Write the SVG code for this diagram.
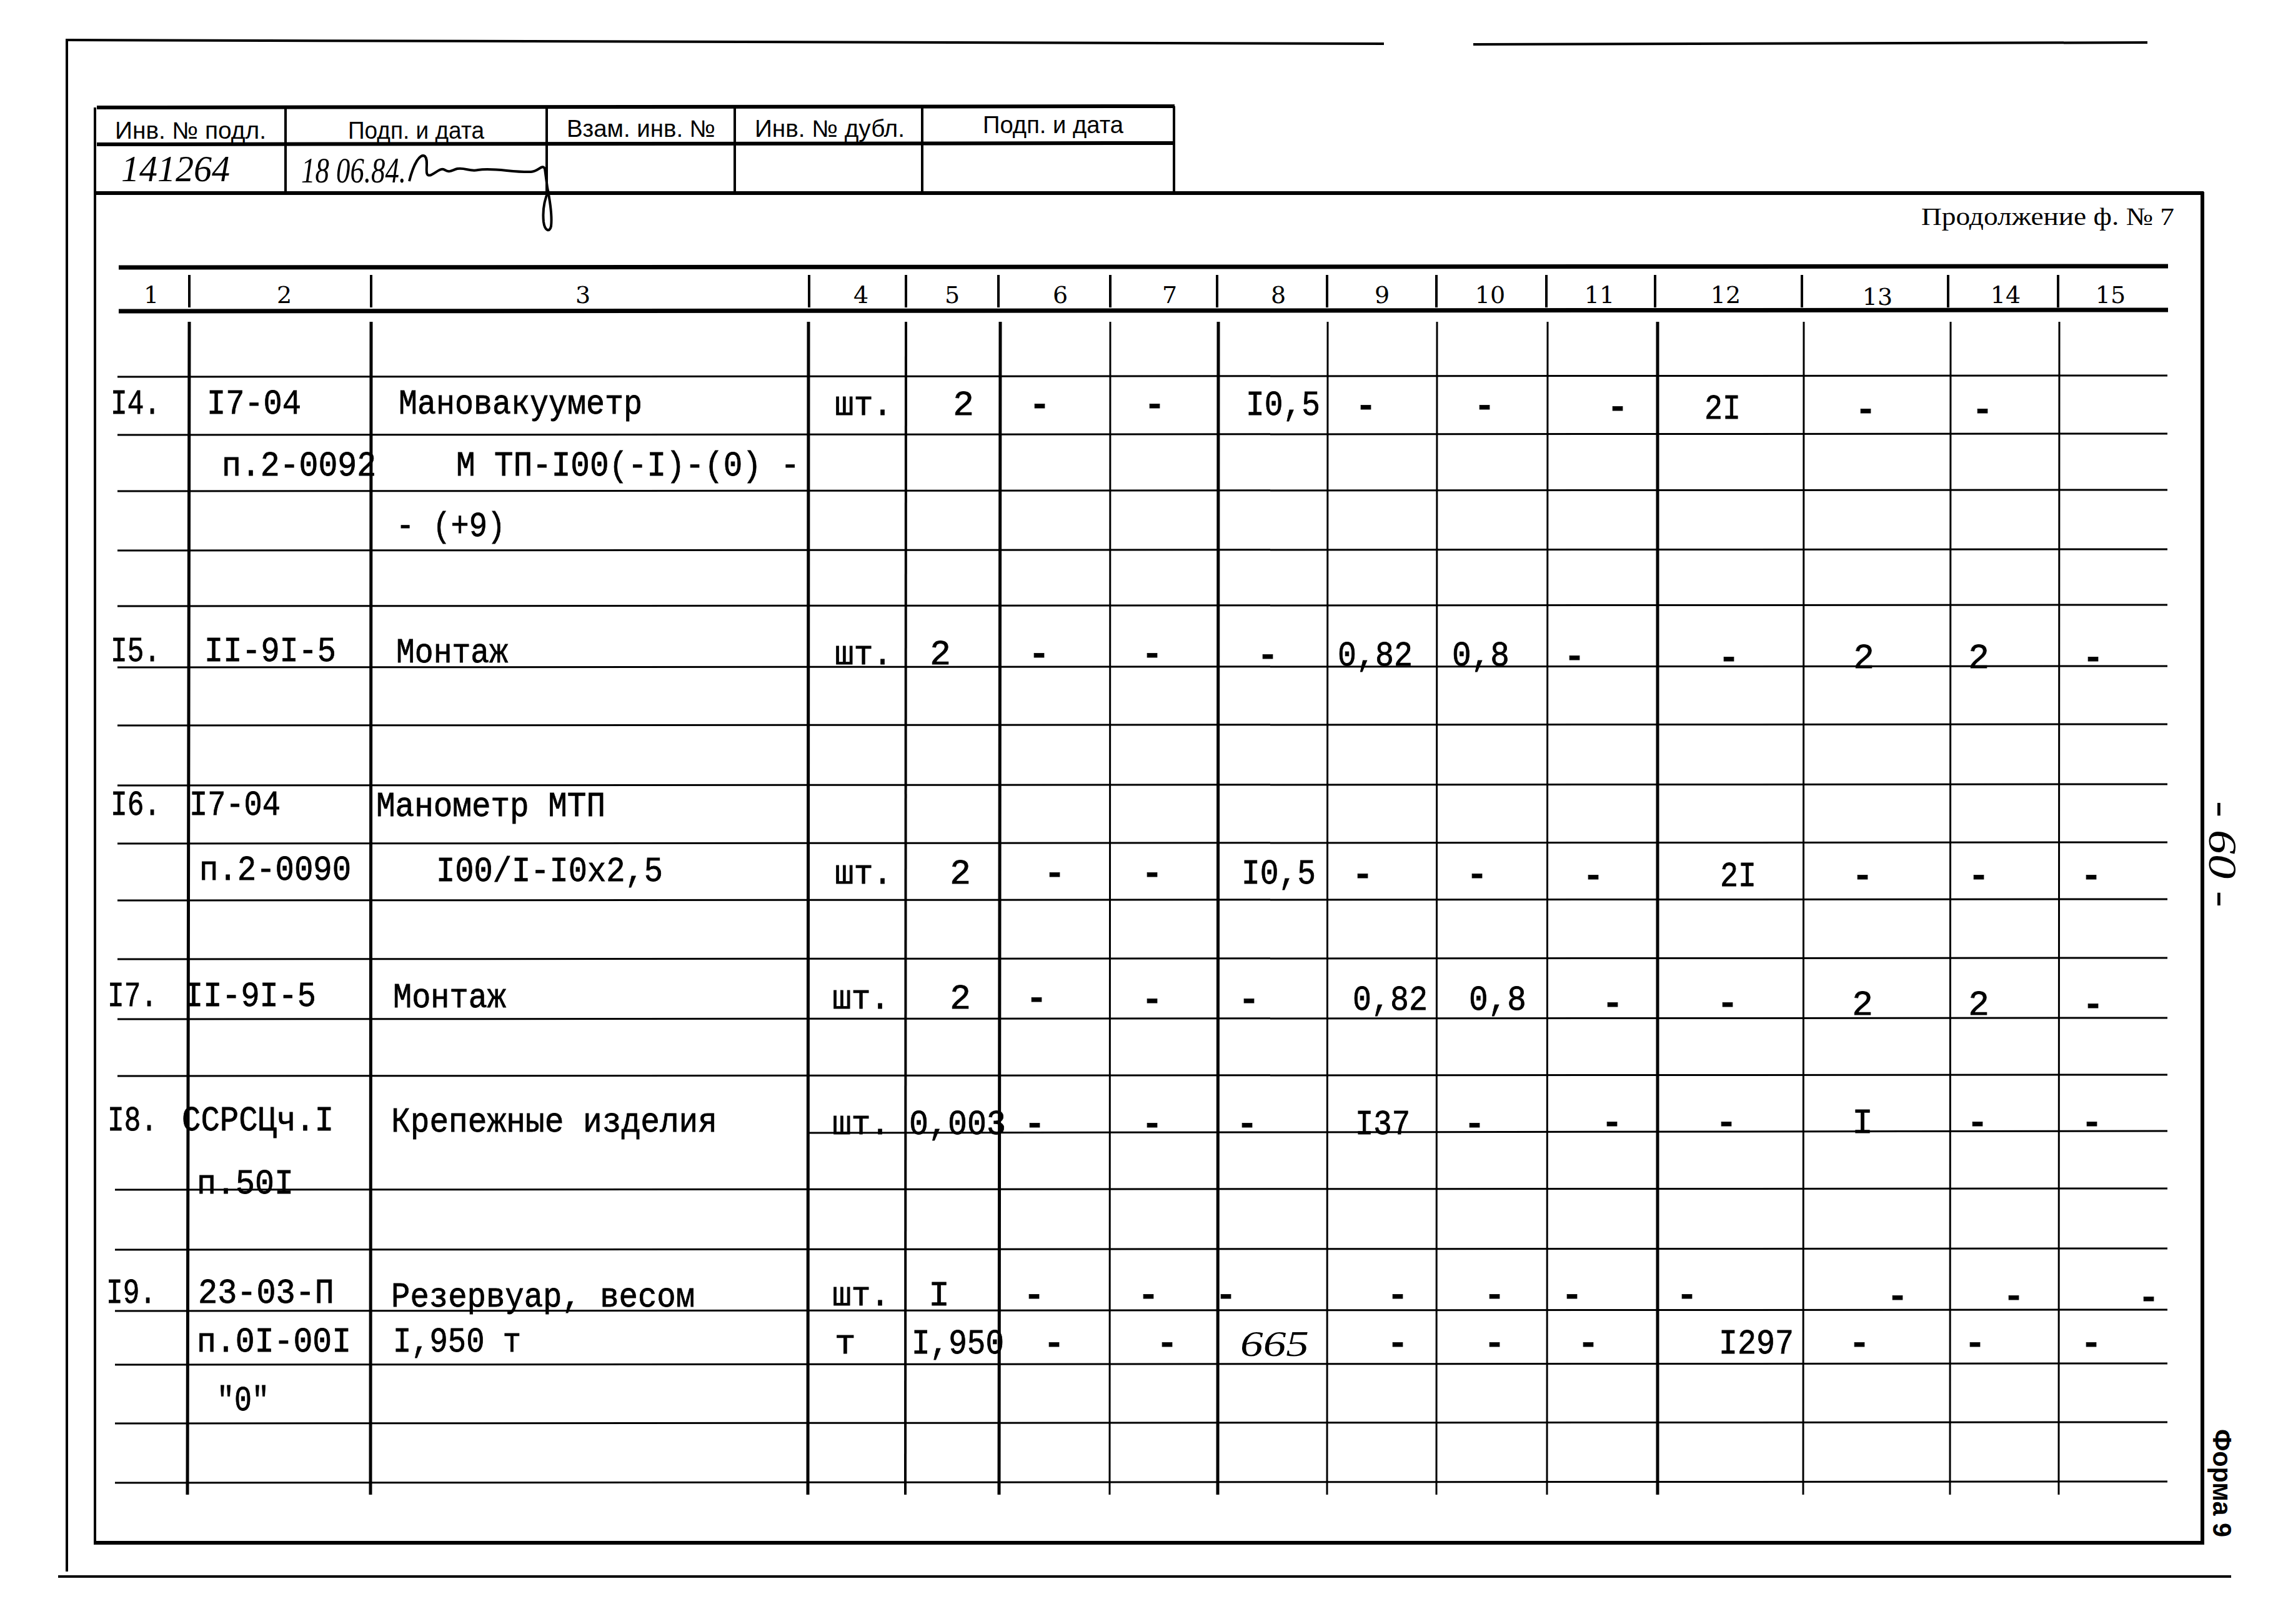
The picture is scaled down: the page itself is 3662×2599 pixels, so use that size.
<svg xmlns="http://www.w3.org/2000/svg" width="3662" height="2599" viewBox="0 0 3662 2599">
<style>
.ln{stroke:#000;fill:none;stroke-linecap:butt}
.t1{stroke-width:3}
.t2{stroke-width:4}
.t3{stroke-width:6}
.tw{font-family:"Liberation Mono","DejaVu Sans Mono",monospace;font-size:56px;fill:#000;stroke:#000;stroke-width:0.8}
.m{text-anchor:middle}
.d{font-weight:bold}
.hd{font-family:"DejaVu Serif","Liberation Serif",serif;font-size:38px;fill:#000;text-anchor:middle}
.st{font-family:"Liberation Sans","DejaVu Sans",sans-serif;font-size:38px;fill:#000}
.hw{font-family:"Liberation Serif","DejaVu Serif",serif;font-style:italic;fill:#000}
.cap{font-family:"Liberation Serif","DejaVu Serif",serif;font-size:40px;fill:#000}
</style>
<rect width="3662" height="2599" fill="#fff"/>

<g id="frame">
<path class="ln t2" d="M107 64 L2215 70 M2358 71 L3437 68"/>
<path class="ln t2" d="M107 62 L107 2515"/>
<path class="ln t2" d="M93 2523 L3571 2523"/>
<path class="ln t2" d="M152 172 L152 2470"/>
<path class="ln t3" d="M152 309 L3527 309"/>
<path class="ln t3" d="M3525 307 L3525 2472"/>
<path class="ln t3" d="M150 2469 L3528 2469"/>
</g>

<g id="stamp">
<path class="ln t3" d="M155 172 L1880 170"/>
<path class="ln t3" d="M155 231 L1880 229"/>
<path class="ln t2" d="M457 172 L457 309 M875 172 L875 309 M1176 172 L1176 309 M1476 172 L1476 309 M1879 170 L1879 309"/>
<text class="st" x="184" y="222" textLength="242" lengthAdjust="spacingAndGlyphs">Инв. № подл.</text>
<text class="st" x="557" y="222" textLength="218" lengthAdjust="spacingAndGlyphs">Подп. и дата</text>
<text class="st" x="907" y="219" textLength="238" lengthAdjust="spacingAndGlyphs">Взам. инв. №</text>
<text class="st" x="1208" y="219" textLength="240" lengthAdjust="spacingAndGlyphs">Инв. № дубл.</text>
<text class="st" x="1573" y="213" textLength="225" lengthAdjust="spacingAndGlyphs">Подп. и дата</text>
<text class="hw" x="194" y="290" font-size="60" textLength="174" lengthAdjust="spacingAndGlyphs">141264</text>
<text class="hw" x="482" y="292" font-size="56" textLength="168" lengthAdjust="spacingAndGlyphs">18 06.84.</text>
<path class="ln" stroke-width="4" d="M655 290 C662 262 672 245 680 250 C688 258 676 285 690 280 C700 275 705 268 712 272 C720 277 724 272 732 270 C745 268 752 275 765 272 C790 268 820 276 850 275 C862 274 868 262 872 270 L876 300 C880 320 884 345 882 362 C880 372 872 370 870 355 C868 335 872 318 878 305"/>
</g>

<text class="cap" x="3075" y="360" textLength="405" lengthAdjust="spacingAndGlyphs">Продолжение ф. № 7</text>

<g id="header">
<path class="ln" stroke-width="7" d="M190 428 L3470 426 M190 498 L3470 496"/>
<path class="ln t2" d="M303 440 L303 492 M594 440 L594 492 M1295 440 L1295 492 M1450 440 L1450 492 M1598 440 L1598 492 M1777 440 L1777 492 M1948 440 L1948 492 M2124 440 L2124 492 M2299 440 L2299 492 M2475 440 L2475 492 M2649 440 L2649 492 M2884 440 L2884 492 M3118 440 L3118 492 M3294 440 L3294 492"/>
<text class="hd" x="242" y="485">1</text>
<text class="hd" x="455" y="485">2</text>
<text class="hd" x="933" y="485">3</text>
<text class="hd" x="1378" y="485">4</text>
<text class="hd" x="1524" y="485">5</text>
<text class="hd" x="1697" y="485">6</text>
<text class="hd" x="1872" y="485">7</text>
<text class="hd" x="2046" y="485">8</text>
<text class="hd" x="2212" y="485">9</text>
<text class="hd" x="2385" y="485">10</text>
<text class="hd" x="2560" y="485">11</text>
<text class="hd" x="2762" y="485">12</text>
<text class="hd" x="3005" y="488">13</text>
<text class="hd" x="3210" y="485">14</text>
<text class="hd" x="3378" y="485">15</text>
</g>

<g id="grid">
<path class="ln t1" d="M188 603 L3469 601 M188 696 L3469 694 M188 786 L3469 784 M188 881 L3469 879 M188 970 L3469 968 M188 1068 L3469 1066 M188 1161 L3469 1159 M188 1257 L3469 1255 M188 1350 L3469 1348 M188 1441 L3469 1439 M188 1535 L3469 1533 M188 1631 L3469 1629 M188 1722 L3469 1720 M1294 1813 L3469 1810 M184 1904 L3469 1902 M184 2000 L3469 1998 M184 2098 L3469 2096 M184 2184 L3469 2182 M184 2278 L3469 2276 M184 2373 L3469 2371"/>
<path class="ln" stroke-width="5" d="M303 515 L300 2392 M594 515 L593 2392 M1294 515 L1293 2392 M1601 515 L1599 2392 M1950 515 L1949 2392 M2653 515 L2653 2392"/>
<path class="ln t2" d="M1450 515 L1449 2392"/>
<path class="ln t1" d="M1777 515 L1776 2392 M2125 515 L2124 2392 M2300 515 L2299 2392 M2477 515 L2476 2392 M2887 515 L2886 2392 M3122 515 L3121 2392 M3296 515 L3295 2392"/>
</g>

<g id="row14">
<text class="tw" x="177" y="662" textLength="80" lengthAdjust="spacingAndGlyphs">I4.</text>
<text class="tw" x="331" y="662" textLength="151" lengthAdjust="spacingAndGlyphs">I7-04</text>
<text class="tw" x="638" y="662" textLength="390" lengthAdjust="spacingAndGlyphs">Мановакууметр</text>
<text class="tw" x="1336" y="664" textLength="92" lengthAdjust="spacingAndGlyphs">шт.</text>
<text class="tw m" x="1542" y="664">2</text>
<text class="tw m d" x="1664" y="664">-</text>
<text class="tw m d" x="1848" y="664">-</text>
<text class="tw" x="1994" y="664" textLength="119" lengthAdjust="spacingAndGlyphs">I0,5</text>
<text class="tw m d" x="2186" y="666">-</text>
<text class="tw m d" x="2376" y="666">-</text>
<text class="tw m d" x="2589" y="668">-</text>
<text class="tw" x="2728" y="670" textLength="58" lengthAdjust="spacingAndGlyphs">2I</text>
<text class="tw m d" x="2986" y="672">-</text>
<text class="tw m d" x="3173" y="672">-</text>
<text class="tw" x="355" y="761" textLength="247" lengthAdjust="spacingAndGlyphs">п.2-0092</text>
<text class="tw" x="730" y="761" textLength="550" lengthAdjust="spacingAndGlyphs">М ТП-I00(-I)-(0) -</text>
<text class="tw" x="634" y="858" textLength="175" lengthAdjust="spacingAndGlyphs">- (+9)</text>
</g>

<g id="row15">
<text class="tw" x="177" y="1058" textLength="80" lengthAdjust="spacingAndGlyphs">I5.</text>
<text class="tw" x="327" y="1058" textLength="211" lengthAdjust="spacingAndGlyphs">II-9I-5</text>
<text class="tw" x="634" y="1060" textLength="179" lengthAdjust="spacingAndGlyphs">Монтаж</text>
<text class="tw" x="1336" y="1063" textLength="92" lengthAdjust="spacingAndGlyphs">шт.</text>
<text class="tw m" x="1505" y="1063">2</text>
<text class="tw m d" x="1663" y="1063">-</text>
<text class="tw m d" x="1844" y="1063">-</text>
<text class="tw m d" x="2029" y="1065">-</text>
<text class="tw" x="2141" y="1065" textLength="120" lengthAdjust="spacingAndGlyphs">0,82</text>
<text class="tw" x="2324" y="1065" textLength="92" lengthAdjust="spacingAndGlyphs">0,8</text>
<text class="tw m d" x="2520" y="1067">-</text>
<text class="tw m d" x="2767" y="1069">-</text>
<text class="tw m" x="2983" y="1069">2</text>
<text class="tw m" x="3167" y="1069">2</text>
<text class="tw m d" x="3350" y="1069">-</text>
</g>

<g id="row16">
<text class="tw" x="177" y="1304" textLength="80" lengthAdjust="spacingAndGlyphs">I6.</text>
<text class="tw" x="303" y="1304" textLength="146" lengthAdjust="spacingAndGlyphs">I7-04</text>
<text class="tw" x="602" y="1306" textLength="367" lengthAdjust="spacingAndGlyphs">Манометр МТП</text>
<text class="tw" x="319" y="1408" textLength="243" lengthAdjust="spacingAndGlyphs">п.2-0090</text>
<text class="tw" x="698" y="1410" textLength="363" lengthAdjust="spacingAndGlyphs">I00/I-I0x2,5</text>
<text class="tw" x="1336" y="1414" textLength="92" lengthAdjust="spacingAndGlyphs">шт.</text>
<text class="tw m" x="1537" y="1414">2</text>
<text class="tw m d" x="1688" y="1414">-</text>
<text class="tw m d" x="1844" y="1414">-</text>
<text class="tw" x="1987" y="1414" textLength="119" lengthAdjust="spacingAndGlyphs">I0,5</text>
<text class="tw m d" x="2181" y="1416">-</text>
<text class="tw m d" x="2364" y="1416">-</text>
<text class="tw m d" x="2550" y="1418">-</text>
<text class="tw" x="2753" y="1418" textLength="58" lengthAdjust="spacingAndGlyphs">2I</text>
<text class="tw m d" x="2981" y="1418">-</text>
<text class="tw m d" x="3167" y="1418">-</text>
<text class="tw m d" x="3347" y="1418">-</text>
</g>

<g id="row17">
<text class="tw" x="172" y="1610" textLength="80" lengthAdjust="spacingAndGlyphs">I7.</text>
<text class="tw" x="295" y="1610" textLength="211" lengthAdjust="spacingAndGlyphs">II-9I-5</text>
<text class="tw" x="629" y="1612" textLength="181" lengthAdjust="spacingAndGlyphs">Монтаж</text>
<text class="tw" x="1332" y="1614" textLength="92" lengthAdjust="spacingAndGlyphs">шт.</text>
<text class="tw m" x="1537" y="1614">2</text>
<text class="tw m d" x="1659" y="1614">-</text>
<text class="tw m d" x="1844" y="1616">-</text>
<text class="tw m d" x="1999" y="1616">-</text>
<text class="tw" x="2165" y="1616" textLength="120" lengthAdjust="spacingAndGlyphs">0,82</text>
<text class="tw" x="2351" y="1616" textLength="92" lengthAdjust="spacingAndGlyphs">0,8</text>
<text class="tw m d" x="2581" y="1622">-</text>
<text class="tw m d" x="2765" y="1622">-</text>
<text class="tw m" x="2981" y="1624">2</text>
<text class="tw m" x="3167" y="1624">2</text>
<text class="tw m d" x="3350" y="1624">-</text>
</g>

<g id="row18">
<text class="tw" x="172" y="1809" textLength="80" lengthAdjust="spacingAndGlyphs">I8.</text>
<text class="tw" x="291" y="1809" textLength="243" lengthAdjust="spacingAndGlyphs">ССРСЦч.I</text>
<text class="tw" x="626" y="1811" textLength="522" lengthAdjust="spacingAndGlyphs">Крепежные изделия</text>
<text class="tw" x="315" y="1910" textLength="155" lengthAdjust="spacingAndGlyphs">п.50I</text>
<text class="tw" x="1332" y="1815" textLength="92" lengthAdjust="spacingAndGlyphs">шт.</text>
<text class="tw" x="1455" y="1815" textLength="155" lengthAdjust="spacingAndGlyphs">0,003</text>
<text class="tw m d" x="1656" y="1815">-</text>
<text class="tw m d" x="1844" y="1815">-</text>
<text class="tw m d" x="1996" y="1815">-</text>
<text class="tw" x="2169" y="1815" textLength="88" lengthAdjust="spacingAndGlyphs">I37</text>
<text class="tw m d" x="2360" y="1815">-</text>
<text class="tw m d" x="2580" y="1813">-</text>
<text class="tw m d" x="2763" y="1813">-</text>
<text class="tw m" x="2981" y="1813">I</text>
<text class="tw m d" x="3165" y="1813">-</text>
<text class="tw m d" x="3348" y="1813">-</text>
</g>

<g id="row19">
<text class="tw" x="170" y="2085" textLength="80" lengthAdjust="spacingAndGlyphs">I9.</text>
<text class="tw" x="317" y="2085" textLength="218" lengthAdjust="spacingAndGlyphs">23-03-П</text>
<text class="tw" x="626" y="2091" textLength="486" lengthAdjust="spacingAndGlyphs">Резервуар, весом</text>
<text class="tw" x="315" y="2163" textLength="247" lengthAdjust="spacingAndGlyphs">п.0I-00I</text>
<text class="tw" x="629" y="2163" textLength="205" lengthAdjust="spacingAndGlyphs">I,950 т</text>
<text class="tw" x="347" y="2257" textLength="84" lengthAdjust="spacingAndGlyphs">"0"</text>
<text class="tw" x="1332" y="2089" textLength="92" lengthAdjust="spacingAndGlyphs">шт.</text>
<text class="tw m" x="1503" y="2089">I</text>
<text class="tw m d" x="1655" y="2089">-</text>
<text class="tw m d" x="1838" y="2089">-</text>
<text class="tw m d" x="1962" y="2089">-</text>
<text class="tw m d" x="2237" y="2089">-</text>
<text class="tw m d" x="2392" y="2089">-</text>
<text class="tw m d" x="2516" y="2089">-</text>
<text class="tw m d" x="2700" y="2089">-</text>
<text class="tw m d" x="3037" y="2091">-</text>
<text class="tw m d" x="3223" y="2091">-</text>
<text class="tw m d" x="3439" y="2093">-</text>
<text class="tw" x="1336" y="2166">т</text>
<text class="tw" x="1459" y="2166" textLength="148" lengthAdjust="spacingAndGlyphs">I,950</text>
<text class="tw m d" x="1687" y="2166">-</text>
<text class="tw m d" x="1868" y="2166">-</text>
<text class="hw" x="1985" y="2170" font-size="56" textLength="110" lengthAdjust="spacingAndGlyphs">665</text>
<text class="tw m d" x="2237" y="2166">-</text>
<text class="tw m d" x="2392" y="2166">-</text>
<text class="tw m d" x="2542" y="2166">-</text>
<text class="tw" x="2751" y="2166" textLength="120" lengthAdjust="spacingAndGlyphs">I297</text>
<text class="tw m d" x="2976" y="2166">-</text>
<text class="tw m d" x="3161" y="2166">-</text>
<text class="tw m d" x="3347" y="2166">-</text>
</g>

<g id="side">
<text class="hw" font-size="64" transform="translate(3536 1282) rotate(90)" textLength="170" lengthAdjust="spacingAndGlyphs">- 60 -</text>
<text font-family="'Liberation Sans','DejaVu Sans',sans-serif" font-weight="bold" font-size="42" transform="translate(3542 2287) rotate(90)" textLength="173" lengthAdjust="spacingAndGlyphs">Форма 9</text>
</g>
</svg>
